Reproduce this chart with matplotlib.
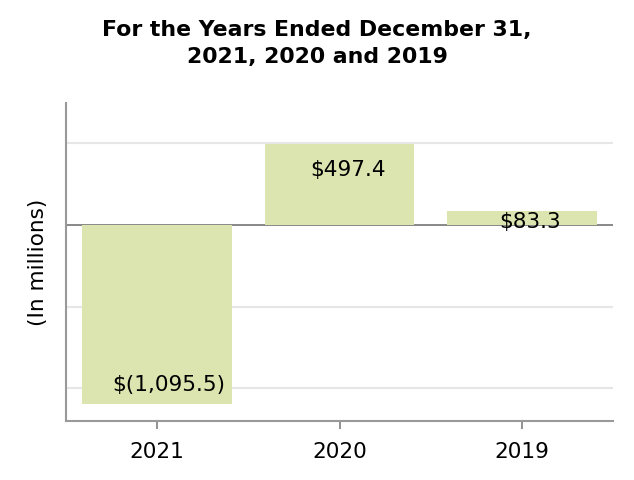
import matplotlib
matplotlib.use("Agg")
import matplotlib.pyplot as plt

years = ["2021", "2020", "2019"]
values = [-1095.5, 497.4, 83.3]
labels = ["$(1,095.5)", "$497.4", "$83.3"]
label_offsets_px = [19, -26, -11]
label_dx_px = [12, 9, 8]

FS = 15.6
fig = plt.figure(figsize=(6.34, 4.8), dpi=100)
ax = fig.add_axes([66/634, 1 - 421/480, (613-66)/634, (421-103)/480])

x = list(range(len(years)))
for yv in [500, -500, -1000]:
    ax.axhline(yv, color="#e6e6e6", lw=1.5, zorder=0)
ax.axhline(0, color="#7f7f7f", lw=1.3, zorder=1)
ax.bar(x, values, width=0.82, color="#dce5b0", zorder=2)

for xi, v, lab, dy, dx in zip(x, values, labels, label_offsets_px, label_dx_px):
    ax.annotate(lab, xy=(xi, v), xytext=(dx*0.72, dy*0.72), textcoords="offset points",
                ha="center", va="center", fontsize=FS, color="black", zorder=3)

ax.set_xlim(-0.5, 2.5)
ax.set_ylim(-1202, 748)
ax.set_xticks(x)
ax.set_xticklabels(years, fontsize=FS)
ax.set_yticks([])
ax.tick_params(axis="x", length=6, color="#7f7f7f", width=1.2, pad=9)
for s in ["top", "right"]:
    ax.spines[s].set_visible(False)
for s in ["left", "bottom"]:
    ax.spines[s].set_color("#999999")
    ax.spines[s].set_linewidth(1.5)
ax.set_ylabel("(In millions)", fontsize=FS, labelpad=13)

fig.suptitle("For the Years Ended December 31,\n2021, 2020 and 2019", fontsize=15.8,
             fontweight="bold", y=1 - 20/480, va="top", linespacing=1.45)

fig.savefig("out.png", dpi=100)
